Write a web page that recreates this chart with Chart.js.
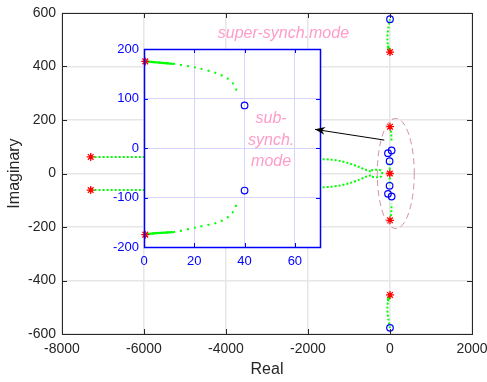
<!DOCTYPE html>
<html>
<head>
<meta charset="utf-8">
<script src="https://cdn.jsdelivr.net/npm/chart.js@4.4.1/dist/chart.umd.min.js"></script>
<style>
  html, body { margin: 0; padding: 0; background: #fff; }
  #wrap { position: relative; width: 487px; height: 382px; }
  #wrap canvas { position: absolute; left: 0; top: 0; }
</style>
</head>
<body>
<div id="wrap">
  <canvas id="main" width="487" height="382"></canvas>
  <canvas id="inset" width="487" height="382"></canvas>
</div>
<script>
// open loop poles (*) and zeros (o)
const poleRe = [-7300, -7300, 0.5, 0.5, 0.5, 0.5, -5];
const poleIm = [62, -62, 454, -454, 175, -175, 0];
const zeroRe = [0, 0, 40, 40, -49, -49, -10, -10];
const zeroIm = [577, -577, 86, -86, 76, -76, 46, -46];

// branches from the far left poles towards the real axis
const farUpRe = [-7300, -6000, -4000, -2500, -1700, -1460, -1220, -980, -780, -610, -460];
const farUpIm = [62, 62, 61, 58, 54, 52, 47, 37, 26, 15, 7];
const farLoRe = [-7300, -6000, -4000, -2500, -1700, -1460, -1220, -980, -780, -610, -460];
const farLoIm = [-62, -62, -61, -57, -52, -50, -45, -36, -25, -14, -6];
// little break-in loop on the real axis
const loopRe = [-460, -290, -200, -200, -290, -460];
const loopIm = [12, 14, 9, -9, -14, -12];

// super-synchronous branches
const hiUpRe = [0.5, -25, -50, -62, -60, -40, -15, 0];
const hiUpIm = [454, 462, 478, 500, 520, 545, 565, 577];
const hiLoRe = [0.5, -25, -50, -62, -60, -40, -15, 0];
const hiLoIm = [-454, -462, -478, -500, -520, -545, -565, -577];

// sub-synchronous branches
const midUpRe = [0.5, 5, 11.6, 21, 29, 33, 35.3, 36.9];
const midUpIm = [175, 173, 170, 162, 151, 141, 131, 116];
const midLoRe = [0.5, 5, 11.6, 21, 29, 33, 35.3, 36.9];
const midLoIm = [-174, -172, -170, -160, -151, -141, -130, -113];

// branches from the pole at the origin
const cenUpRe = [-5, -8, -10];
const cenUpIm = [0, 24, 46];
const cenLoRe = [-5, -8, -10];
const cenLoIm = [0, -24, -46];

// main axes ticks
const mainXTicks = [-8000, -6000, -4000, -2000, 0, 2000];
const mainYTicks = [-600, -400, -200, 0, 200, 400, 600];
// inset ticks
const insetXTicks = [0, 20, 40, 60];
const insetYTicks = [-200, -100, 0, 100, 200];

// annotations (main axes coordinates)
const noteText = ['super-synch.mode', 'sub-', 'synch.', 'mode'];
const noteRe = [-2600, -2900, -2900, -2900];
const noteIm = [525, 206, 125, 44];
const arrowRe = [-139, -1829];
const arrowIm = [125, 165];
const ellipse = { re: 141, im: 0, rx: 451, ry: 206 };

const FONT = 'Arial, "Liberation Sans", Helvetica, sans-serif';
const GREEN = '#00ff00';
const PINK = '#ff9cc8';

const pts = (re, im) => re.map((v, i) => ({ x: v, y: im[i] }));

function buildDatasets(dash) {
  const sets = [
    {
      data: pts(poleRe, poleIm), pointStyle: 'star', pointRadius: 4,
      borderColor: '#ff0000', borderWidth: 1.3, clip: 6, showLine: false
    },
    {
      data: pts(zeroRe, zeroIm), pointStyle: 'circle', pointRadius: 3.3,
      borderColor: '#0000ff', backgroundColor: 'rgba(0,0,0,0)', borderWidth: 1.2,
      clip: 6, showLine: false
    }
  ];
  const dotted = [
    [farUpRe, farUpIm], [farLoRe, farLoIm], [loopRe, loopIm],
    [hiUpRe, hiUpIm], [hiLoRe, hiLoIm], [midUpRe, midUpIm], [midLoRe, midLoIm],
    [cenUpRe, cenUpIm], [cenLoRe, cenLoIm]
  ];
  dotted.forEach(([re, im]) => {
    sets.push({
      data: pts(re, im), showLine: true, pointRadius: 0, borderColor: GREEN,
      borderWidth: 2, borderDash: dash, tension: 0.3, clip: 0
    });
  });
  // dense (solid looking) part right next to the poles
  const solid = [
    [hiUpRe.slice(0, 3), hiUpIm.slice(0, 3)], [hiLoRe.slice(0, 3), hiLoIm.slice(0, 3)],
    [midUpRe.slice(0, 3), midUpIm.slice(0, 3)], [midLoRe.slice(0, 3), midLoIm.slice(0, 3)]
  ];
  solid.forEach(([re, im]) => {
    sets.push({
      data: pts(re, im), showLine: true, pointRadius: 0, borderColor: GREEN,
      borderWidth: 2.2, tension: 0.3, clip: 0
    });
  });
  return sets;
}

function innerTicks(chart, xt, yt, color, len) {
  const { ctx, chartArea: a, scales: { x, y } } = chart;
  ctx.save();
  ctx.strokeStyle = color;
  ctx.lineWidth = 1;
  ctx.beginPath();
  xt.forEach(v => {
    const px = Math.round(x.getPixelForValue(v)) + 0.5;
    ctx.moveTo(px, a.bottom); ctx.lineTo(px, a.bottom - len);
    ctx.moveTo(px, a.top); ctx.lineTo(px, a.top + len);
  });
  yt.forEach(v => {
    const py = Math.round(y.getPixelForValue(v)) + 0.5;
    ctx.moveTo(a.left, py); ctx.lineTo(a.left + len, py);
    ctx.moveTo(a.right, py); ctx.lineTo(a.right - len, py);
  });
  ctx.stroke();
  ctx.restore();
}

const keepTicks = list => s => { s.ticks = list.map(v => ({ value: v })); };
const plain = v => String(v);

// Main plot
const mainFrame = {
  id: 'mainFrame',
  afterDraw(chart) {
    const { ctx, chartArea: a, scales: { x, y } } = chart;
    innerTicks(chart, mainXTicks, mainYTicks, '#262626', 5);
    ctx.save();
    ctx.strokeStyle = '#262626';
    ctx.lineWidth = 1;
    ctx.strokeRect(a.left + 0.5, a.top + 0.5, a.right - a.left, a.bottom - a.top);
    // dashed ellipse around the sub-synch. poles
    const cx = x.getPixelForValue(ellipse.re);
    const cy = y.getPixelForValue(ellipse.im);
    const rx = x.getPixelForValue(ellipse.re + ellipse.rx) - cx;
    const ry = cy - y.getPixelForValue(ellipse.im + ellipse.ry);
    ctx.strokeStyle = '#d2919b';
    ctx.setLineDash([6, 4]);
    ctx.beginPath();
    ctx.ellipse(cx, cy, rx, ry, 0, 0, Math.PI * 2);
    ctx.stroke();
    ctx.restore();
  }
};

const mainChart = new Chart(document.getElementById('main'), {
  type: 'scatter',
  data: { datasets: buildDatasets([2, 2]) },
  options: {
    responsive: false,
    animation: false,
    events: [],
    layout: { padding: { left: 0, right: 15, top: 13, bottom: 0 } },
    plugins: { legend: { display: false }, tooltip: { enabled: false } },
    scales: {
      x: {
        type: 'linear', min: -8000, max: 2000,
        afterBuildTicks: keepTicks(mainXTicks),
        afterFit: s => { s.height = 48; s.paddingLeft = 0; s.paddingRight = 0; },
        ticks: { color: '#262626', font: { family: FONT, size: 14 }, padding: 7, maxRotation: 0, callback: plain },
        grid: { color: '#e6e6e6', lineWidth: 1.5, drawTicks: false },
        border: { display: false },
        title: { display: true, text: 'Real', color: '#262626', font: { family: FONT, size: 16 }, padding: { top: 0, bottom: 3 } }
      },
      y: {
        type: 'linear', min: -600, max: 600,
        afterBuildTicks: keepTicks(mainYTicks),
        afterFit: s => { s.width = 62; s.paddingTop = 0; s.paddingBottom = 0; },
        ticks: { color: '#262626', font: { family: FONT, size: 14 }, padding: 6, callback: plain },
        grid: { color: '#e6e6e6', lineWidth: 1.5, drawTicks: false },
        border: { display: false },
        title: { display: true, text: 'Imaginary', color: '#262626', font: { family: FONT, size: 16 }, padding: { top: 5, bottom: 0 } }
      }
    }
  },
  plugins: [mainFrame]
});

// Inset (zoom near the sub-synch. mode) plus the annotations on top
const insetFrame = {
  id: 'insetFrame',
  beforeDraw(chart) {
    const { ctx, chartArea: a } = chart;
    ctx.save();
    ctx.fillStyle = '#ffffff';
    ctx.fillRect(a.left, a.top, a.right - a.left, a.bottom - a.top);
    ctx.restore();
  },
  afterDraw(chart) {
    const { ctx, chartArea: a } = chart;
    innerTicks(chart, insetXTicks, insetYTicks, '#0000ff', 4);
    ctx.save();
    ctx.strokeStyle = '#0000ff';
    ctx.lineWidth = 1.5;
    ctx.strokeRect(a.left + 0.5, a.top + 0.5, a.right - a.left, a.bottom - a.top);

    const mx = mainChart.scales.x, my = mainChart.scales.y;
    // texts
    ctx.fillStyle = PINK;
    ctx.font = 'italic 16px ' + FONT;
    ctx.textAlign = 'center';
    ctx.textBaseline = 'middle';
    noteText.forEach((t, i) => {
      ctx.fillText(t, mx.getPixelForValue(noteRe[i]), my.getPixelForValue(noteIm[i]));
    });
    // arrow
    const x0 = mx.getPixelForValue(arrowRe[0]), y0 = my.getPixelForValue(arrowIm[0]);
    const x1 = mx.getPixelForValue(arrowRe[1]), y1 = my.getPixelForValue(arrowIm[1]);
    ctx.strokeStyle = '#000';
    ctx.fillStyle = '#000';
    ctx.lineWidth = 1;
    ctx.beginPath();
    ctx.moveTo(x0, y0);
    ctx.lineTo(x1, y1);
    ctx.stroke();
    ctx.translate(x1, y1);
    ctx.rotate(Math.atan2(y1 - y0, x1 - x0));
    ctx.beginPath();
    ctx.moveTo(0, 0);
    ctx.lineTo(-10, -4);
    ctx.lineTo(-7, 0);
    ctx.lineTo(-10, 4);
    ctx.closePath();
    ctx.fill();
    ctx.restore();
  }
};

const insetChart = new Chart(document.getElementById('inset'), {
  type: 'scatter',
  data: { datasets: buildDatasets([2, 5]) },
  options: {
    responsive: false,
    animation: false,
    events: [],
    layout: { padding: { left: 100, right: 167, top: 49, bottom: 0 } },
    plugins: { legend: { display: false }, tooltip: { enabled: false } },
    scales: {
      x: {
        type: 'linear', min: 0, max: 70,
        afterBuildTicks: keepTicks(insetXTicks),
        afterFit: s => { s.height = 135; s.paddingLeft = 0; s.paddingRight = 0; },
        ticks: { color: '#0000ff', font: { family: FONT, size: 13 }, padding: 7, maxRotation: 0, callback: plain },
        grid: { color: '#d4d4ff', lineWidth: 1, drawTicks: false },
        border: { display: false }
      },
      y: {
        type: 'linear', min: -200, max: 200,
        afterBuildTicks: keepTicks(insetYTicks),
        afterFit: s => { s.width = 44; s.paddingTop = 0; s.paddingBottom = 0; },
        ticks: { color: '#0000ff', font: { family: FONT, size: 13 }, padding: 5, callback: plain },
        grid: { color: '#d4d4ff', lineWidth: 1, drawTicks: false },
        border: { display: false }
      }
    }
  },
  plugins: [insetFrame]
});
</script>
</body>
</html>
